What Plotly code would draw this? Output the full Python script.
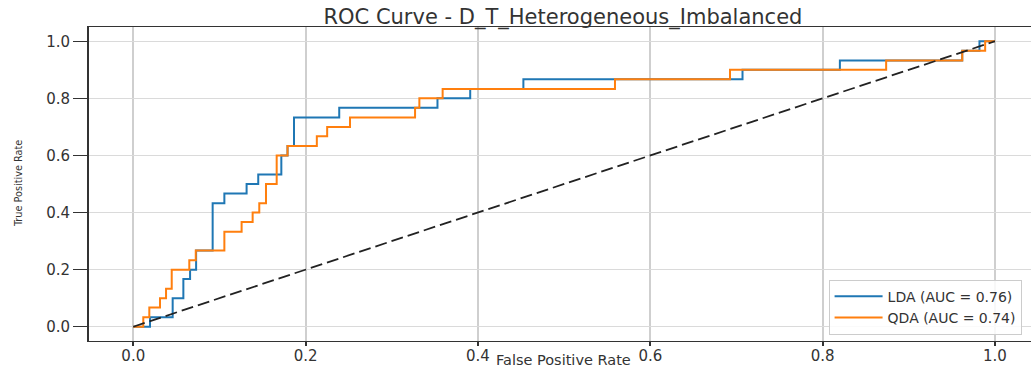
import plotly.graph_objects as go

# ---- data ----
lda_fpr = [0.0, 0.0194, 0.0457, 0.0581, 0.0659, 0.0729, 0.0921, 0.1057, 0.1315, 0.145,
           0.1718, 0.179, 0.1865, 0.239, 0.353, 0.391, 0.4527, 0.707, 0.820, 0.962, 0.982, 1.0]
lda_tpr = [0.0, 0.033, 0.1, 0.167, 0.2, 0.267, 0.433, 0.467, 0.5, 0.533,
           0.6, 0.633, 0.733, 0.767, 0.8, 0.833, 0.867, 0.9, 0.933, 0.967, 1.0, 1.0]

qda_fpr = [0.0, 0.0116, 0.0186, 0.031, 0.038, 0.0446, 0.065, 0.0725, 0.1057, 0.1257,
           0.1385, 0.1462, 0.154, 0.1664, 0.179, 0.213, 0.225, 0.2515, 0.327, 0.332,
           0.359, 0.559, 0.6925, 0.8737, 0.962, 0.9886, 1.0]
qda_tpr = [0.0, 0.033, 0.067, 0.1, 0.133, 0.2, 0.233, 0.267, 0.333, 0.367,
           0.4, 0.433, 0.5, 0.6, 0.633, 0.667, 0.7, 0.733, 0.767, 0.8,
           0.833, 0.867, 0.9, 0.933, 0.967, 1.0, 1.0]

chance_x = [0.0, 1.0]
chance_y = [0.0, 1.0]

series_names = ["LDA (AUC = 0.76)", "QDA (AUC = 0.74)"]
tick_vals = [0.0, 0.2, 0.4, 0.6, 0.8, 1.0]
tick_text = ["0.0", "0.2", "0.4", "0.6", "0.8", "1.0"]

title_text = "ROC Curve - D_T_Heterogeneous_Imbalanced"
x_title = "False Positive Rate"
y_title = "True Positive Rate"

FONT = "DejaVu Sans, Verdana, sans-serif"

fig = go.Figure()
fig.add_trace(go.Scatter(x=lda_fpr, y=lda_tpr, mode="lines", name=series_names[0],
                         line=dict(color="#1f77b4", width=2, shape="hv")))
fig.add_trace(go.Scatter(x=qda_fpr, y=qda_tpr, mode="lines", name=series_names[1],
                         line=dict(color="#ff7f0e", width=2, shape="hv")))
fig.add_trace(go.Scatter(x=chance_x, y=chance_y, mode="lines", showlegend=False,
                         line=dict(color="#222222", width=1.8, dash="12px,5px")))

fig.update_layout(
    width=1031, height=369,
    margin=dict(l=89, r=0, t=27, b=28, autoexpand=False),
    paper_bgcolor="white", plot_bgcolor="white",
    font=dict(family=FONT, color="#333333", size=15),
    title=dict(text=title_text, x=0.546, xanchor="center", xref="container",
               y=1 - 17 / 369, yanchor="middle", yref="container",
               font=dict(family=FONT, size=21, color="#333333")),
    showlegend=True,
    legend=dict(x=0.99, xanchor="right", y=0.02, yanchor="bottom",
                bgcolor="rgba(255,255,255,0.85)", bordercolor="#cccccc", borderwidth=1,
                font=dict(family=FONT, size=14, color="#333333"),
                tracegroupgap=0, itemwidth=48),
)

fig.update_xaxes(range=[-0.0514, 1.0418], tickvals=tick_vals, ticktext=tick_text,
                 showgrid=True, gridcolor="#cfcfcf", gridwidth=2, zeroline=False,
                 showline=True, linecolor="#333333", linewidth=1, mirror=True,
                 ticks="outside", ticklen=4, tickwidth=1.5, tickcolor="#333333",
                 ticklabelstandoff=-3,
                 tickfont=dict(family=FONT, size=15, color="#333333"), automargin=False)
fig.update_yaxes(range=[-0.05, 1.05], tickvals=tick_vals, ticktext=tick_text,
                 showgrid=True, gridcolor="#dadada", gridwidth=1.2, zeroline=False,
                 showline=True, linecolor="#333333", linewidth=2, mirror=False,
                 ticks="outside", ticklen=14, tickwidth=1, tickcolor="#333333",
                 tickfont=dict(family=FONT, size=15, color="#333333"), automargin=False)

fig.add_annotation(text=x_title, xref="paper", yref="paper", x=(563 - 89) / 942, y=0,
                   xanchor="center", yanchor="top", yshift=-10, showarrow=False,
                   borderpad=0,
                   font=dict(family=FONT, size=14.5, color="#333333"))
fig.add_annotation(text=y_title, xref="paper", yref="paper", x=0, y=0.5,
                   xanchor="center", yanchor="middle", xshift=-71, textangle=-90,
                   showarrow=False,
                   font=dict(family="DejaVu Sans Condensed, Liberation Sans Narrow, sans-serif",
                             size=10.8, color="#333333"))

fig.write_html("out.html", config={"displayModeBar": False},
               post_script="document.body.style.margin='0';document.body.style.overflow='hidden';")
